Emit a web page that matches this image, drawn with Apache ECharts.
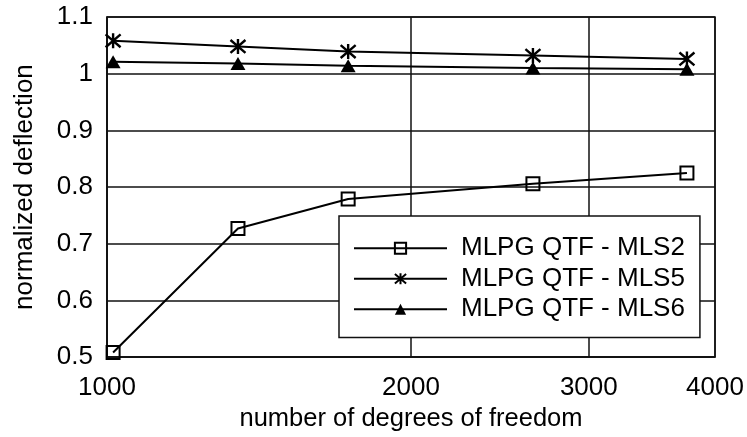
<!DOCTYPE html>
<html>
<head>
<meta charset="utf-8">
<script src="https://cdn.jsdelivr.net/npm/echarts@6/dist/echarts.min.js"></script>
<style>
  html, body { margin: 0; padding: 0; background: #fff; }
  #chart { width: 747px; height: 437px; }
</style>
</head>
<body>
<div id="chart"></div>
<script>
// Degrees of freedom used in the convergence study
const dof = [1014, 1348, 1733, 2641, 3752];

// Normalized deflection for each MLS basis
const mls2 = [0.508, 0.727, 0.779, 0.806, 0.825];
const mls5 = [1.058, 1.048, 1.039, 1.032, 1.026];
const mls6 = [1.021, 1.018, 1.014, 1.010, 1.008];

const seriesNames = ['MLPG QTF - MLS2', 'MLPG QTF - MLS5', 'MLPG QTF - MLS6'];

// Tick positions on the logarithmic dof axis
const xTicks = [1000, 2000, 3000, 4000];
const yMin = 0.5, yMax = 1.1, yStep = 0.1;

const FONT = '"Liberation Sans", Arial, sans-serif';
const INK = '#000';
const FS = 26;

const pairs = (ys) => dof.map((x, i) => [x, ys[i]]);

// asterisk marker: vertical bar plus two diagonals
const starPath = 'path://M5,0L5,10M0.7,0.7L9.3,9.3M0.7,9.3L9.3,0.7';

const chart = echarts.init(document.getElementById('chart'), null, { renderer: 'canvas' });

chart.setOption({
  animation: false,
  backgroundColor: '#fff',
  textStyle: { fontFamily: FONT, color: INK },
  grid: {
    left: 107, right: 32, top: 17, bottom: 79,
    show: true, borderColor: '#111', borderWidth: 1.5, backgroundColor: 'transparent'
  },
  xAxis: {
    type: 'log',
    logBase: 10,
    min: 1000,
    max: 4000,
    name: 'number of degrees of freedom',
    nameLocation: 'middle',
    nameGap: 41,
    nameTextStyle: { fontSize: 25.5, color: INK, fontFamily: FONT },
    axisLine: { show: true, lineStyle: { color: '#111', width: 1.5 } },
    axisTick: { show: false, customValues: xTicks },
    axisLabel: {
      customValues: xTicks, fontSize: FS, color: INK, fontFamily: FONT, margin: 18,
      formatter: (v) => String(Math.round(v))
    },
    splitLine: { show: true, lineStyle: { color: '#111', width: 1.5 } },
    minorTick: { show: false },
    minorSplitLine: { show: false }
  },
  yAxis: {
    type: 'value',
    min: yMin,
    max: yMax,
    interval: yStep,
    name: 'normalized deflection',
    nameLocation: 'middle',
    nameRotate: 90,
    nameGap: 69,
    nameTextStyle: { fontSize: FS, color: INK, fontFamily: FONT },
    axisLine: { show: true, lineStyle: { color: '#111', width: 1.5 } },
    axisTick: { show: false },
    axisLabel: { fontSize: FS, color: INK, fontFamily: FONT, margin: 14 },
    splitLine: { show: true, lineStyle: { color: '#111', width: 1.5 } }
  },
  legend: {
    data: seriesNames,
    orient: 'vertical',
    left: 339,
    top: 216,
    padding: [17, 15, 13, 14],
    itemWidth: 93,
    itemHeight: 14,
    itemGap: 0,
    backgroundColor: '#fff',
    borderColor: '#111',
    borderWidth: 1.5,
    borderRadius: 0,
    textStyle: { fontSize: FS, color: INK, fontFamily: FONT, lineHeight: 30.5, padding: [0, 0, 0, 9] }
  },
  series: [
    {
      name: seriesNames[0],
      type: 'line',
      data: pairs(mls2),
      symbol: 'rect',
      symbolSize: 13,
      lineStyle: { color: INK, width: 2 },
      itemStyle: { color: 'rgba(255,255,255,0)', borderColor: INK, borderWidth: 2 },
      z: 3
    },
    {
      name: seriesNames[1],
      type: 'line',
      data: pairs(mls5),
      symbol: starPath,
      symbolSize: 15,
      lineStyle: { color: INK, width: 2 },
      itemStyle: { color: INK, borderColor: INK, borderWidth: 2.4 },
      z: 3
    },
    {
      name: seriesNames[2],
      type: 'line',
      data: pairs(mls6),
      symbol: 'triangle',
      symbolSize: [15, 13],
      lineStyle: { color: INK, width: 2 },
      itemStyle: { color: INK, borderColor: INK, borderWidth: 0 },
      z: 3
    }
  ]
});
</script>
</body>
</html>
